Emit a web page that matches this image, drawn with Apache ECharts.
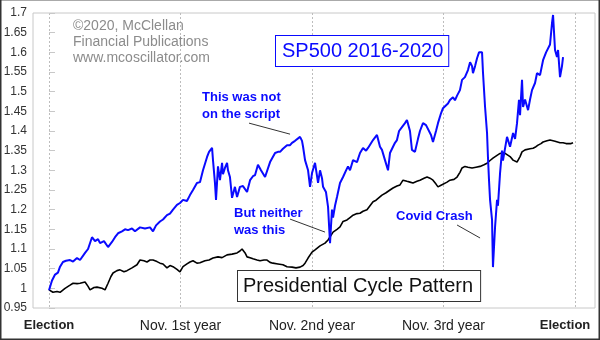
<!DOCTYPE html>
<html>
<head>
<meta charset="utf-8">
<script src="https://cdn.jsdelivr.net/npm/echarts@6/dist/echarts.min.js"></script>
<style>html,body{margin:0;padding:0;background:#fff}#c{width:600px;height:340px}</style>
</head>
<body>
<div id="c"></div>
<script>
// x = years since election, y = growth ratio
const xTicks = [0, 1, 2, 3, 4];
const xTickLabels = ['Election', 'Nov. 1st year', 'Nov. 2nd year', 'Nov. 3rd year', 'Election'];
const sp500Years = [0.000,0.015,0.023,0.046,0.068,0.084,0.106,0.129,0.160,0.183,0.213,0.236,0.274,0.297,0.327,0.350,0.373,0.388,0.418,0.449,0.479,0.502,0.525,0.555,0.578,0.601,0.631,0.654,0.669,0.692,0.730,0.768,0.791,0.814,0.844,0.867,0.897,0.920,0.943,0.973,0.996,1.019,1.049,1.072,1.095,1.125,1.148,1.171,1.202,1.217,1.240,1.247,1.262,1.270,1.285,1.300,1.316,1.323,1.338,1.354,1.361,1.376,1.392,1.399,1.414,1.430,1.452,1.475,1.506,1.529,1.551,1.567,1.589,1.612,1.627,1.643,1.658,1.681,1.696,1.719,1.741,1.757,1.779,1.810,1.833,1.848,1.871,1.886,1.909,1.924,1.932,1.947,1.970,1.985,2.000,2.023,2.046,2.061,2.076,2.084,2.106,2.122,2.137,2.144,2.152,2.160,2.175,2.190,2.213,2.236,2.259,2.274,2.289,2.312,2.342,2.365,2.388,2.411,2.426,2.441,2.464,2.494,2.502,2.517,2.532,2.555,2.578,2.593,2.616,2.631,2.646,2.662,2.684,2.707,2.722,2.745,2.760,2.783,2.806,2.821,2.844,2.867,2.882,2.905,2.920,2.943,2.958,2.981,2.996,3.011,3.034,3.049,3.072,3.087,3.103,3.125,3.141,3.163,3.186,3.202,3.217,3.224,3.240,3.255,3.270,3.293,3.300,3.316,3.331,3.338,3.346,3.354,3.369,3.376,3.392,3.407,3.414,3.430,3.445,3.452,3.483,3.506,3.529,3.544,3.559,3.574,3.582,3.597,3.605,3.620,3.643,3.658,3.673,3.696,3.711,3.734,3.757,3.780,3.795,3.810,3.825,3.833,3.848,3.863,3.871,3.886,3.901,3.909];
const sp500Values = [0.995,0.99,1.02,1.035,1.04,1.055,1.067,1.07,1.072,1.068,1.077,1.072,1.09,1.10,1.13,1.12,1.125,1.115,1.12,1.105,1.118,1.13,1.14,1.145,1.15,1.148,1.152,1.145,1.143,1.155,1.152,1.155,1.145,1.16,1.17,1.175,1.186,1.19,1.20,1.212,1.217,1.225,1.222,1.237,1.25,1.268,1.27,1.30,1.334,1.347,1.357,1.326,1.268,1.225,1.31,1.275,1.319,1.29,1.306,1.319,1.30,1.283,1.23,1.225,1.258,1.232,1.258,1.26,1.245,1.275,1.285,1.288,1.314,1.30,1.305,1.283,1.283,1.321,1.326,1.344,1.347,1.347,1.355,1.364,1.364,1.37,1.375,1.377,1.385,1.375,1.36,1.326,1.30,1.258,1.293,1.319,1.268,1.30,1.28,1.258,1.245,1.207,1.115,1.156,1.2,1.18,1.21,1.232,1.268,1.283,1.30,1.31,1.30,1.326,1.321,1.344,1.357,1.35,1.357,1.36,1.377,1.39,1.385,1.36,1.352,1.326,1.30,1.344,1.36,1.37,1.377,1.40,1.41,1.42,1.428,1.40,1.352,1.347,1.38,1.40,1.42,1.415,1.41,1.39,1.372,1.40,1.42,1.445,1.458,1.461,1.47,1.479,1.486,1.478,1.49,1.504,1.53,1.537,1.555,1.575,1.565,1.547,1.565,1.585,1.60,1.60,1.55,1.461,1.395,1.334,1.275,1.225,1.174,1.054,1.156,1.225,1.21,1.293,1.35,1.325,1.385,1.36,1.395,1.38,1.42,1.479,1.44,1.53,1.461,1.48,1.453,1.48,1.504,1.522,1.547,1.542,1.58,1.60,1.60,1.62,1.674,1.695,1.606,1.588,1.606,1.537,1.565,1.588];
const cycleYears = [0.000,0.030,0.061,0.084,0.122,0.160,0.183,0.213,0.236,0.274,0.297,0.312,0.342,0.365,0.403,0.426,0.449,0.471,0.487,0.517,0.540,0.570,0.593,0.631,0.669,0.692,0.722,0.745,0.768,0.791,0.821,0.844,0.867,0.897,0.920,0.943,0.973,0.996,1.019,1.049,1.072,1.095,1.125,1.148,1.186,1.217,1.247,1.285,1.316,1.354,1.392,1.430,1.452,1.468,1.491,1.506,1.529,1.551,1.582,1.605,1.635,1.658,1.681,1.703,1.741,1.779,1.810,1.848,1.878,1.909,1.932,1.947,1.970,2.000,2.023,2.038,2.061,2.076,2.099,2.122,2.137,2.160,2.190,2.213,2.236,2.266,2.289,2.312,2.342,2.365,2.388,2.418,2.441,2.464,2.487,2.502,2.532,2.563,2.593,2.616,2.646,2.669,2.692,2.722,2.745,2.768,2.798,2.821,2.852,2.875,2.897,2.920,2.943,2.958,2.981,2.996,3.027,3.049,3.080,3.103,3.125,3.141,3.163,3.186,3.217,3.247,3.278,3.308,3.331,3.354,3.376,3.407,3.430,3.460,3.483,3.506,3.529,3.559,3.582,3.597,3.620,3.635,3.658,3.681,3.703,3.719,3.741,3.757,3.787,3.810,3.825,3.848,3.863,3.886,3.909,3.932,3.947,3.970,3.985];
const cycleValues = [0.996,0.99,0.992,0.99,1.0,1.008,1.013,1.012,1.013,1.016,1.005,0.996,1.002,1.003,1.0,0.996,1.013,1.03,1.039,1.045,1.047,1.042,1.045,1.052,1.06,1.072,1.07,1.067,1.072,1.072,1.068,1.064,1.062,1.052,1.058,1.055,1.048,1.042,1.055,1.062,1.067,1.07,1.064,1.065,1.07,1.072,1.077,1.08,1.078,1.085,1.087,1.09,1.095,1.10,1.09,1.08,1.078,1.075,1.072,1.07,1.072,1.072,1.066,1.064,1.062,1.06,1.055,1.054,1.052,1.054,1.058,1.064,1.077,1.092,1.098,1.102,1.108,1.11,1.115,1.123,1.125,1.143,1.15,1.156,1.17,1.174,1.18,1.186,1.19,1.191,1.196,1.2,1.21,1.22,1.224,1.226,1.237,1.243,1.25,1.255,1.26,1.263,1.275,1.272,1.27,1.268,1.272,1.275,1.28,1.283,1.28,1.275,1.265,1.258,1.262,1.265,1.27,1.275,1.277,1.283,1.295,1.306,1.31,1.308,1.306,1.308,1.31,1.314,1.318,1.325,1.331,1.338,1.343,1.345,1.34,1.335,1.326,1.321,1.335,1.347,1.352,1.356,1.355,1.356,1.36,1.364,1.368,1.372,1.375,1.377,1.377,1.374,1.372,1.37,1.37,1.368,1.372,1.368,1.37];
// leader lines of the annotations, in data coordinates [x1,y1,x2,y2]
const leaderLines = [[1.521,1.420,1.833,1.392],[1.833,1.176,2.099,1.143],[3.103,1.161,3.278,1.128]];

const zip = (a, b) => a.map((v, i) => [v, b[i]]);
const chart = echarts.init(document.getElementById('c'), null, {renderer: 'canvas'});
const FONT = '"Liberation Sans", Arial, Helvetica, sans-serif';
const BLUE = '#0a0aff';

chart.setOption({
  animation: false,
  backgroundColor: '#fff',
  textStyle: {fontFamily: FONT},
  grid: {left: 33, top: 13, right: 5, bottom: 32, show: true, borderColor: '#c8c8c8', borderWidth: 1, backgroundColor: 'transparent'},
  xAxis: {
    type: 'value', min: -0.1217, max: 4.152,
    axisLine: {show: false},
    axisTick: {show: false, customValues: xTicks},
    splitLine: {show: true, lineStyle: {color: '#bdbdbd', type: [2, 2], width: 1}},
    axisLabel: {
      customValues: xTicks, margin: 11, color: '#222',
      formatter: (v) => {
        const i = xTicks.indexOf(Math.round(v));
        const t = xTickLabels[i];
        if (i === 0) return '{b|' + t + '}';
        if (i === xTicks.length - 1) return '{e|' + t + '}';
        return '{n|' + t + '}';
      },
      rich: {
        b: {fontSize: 13, fontWeight: 'bold', color: '#222', fontFamily: FONT},
        e: {fontSize: 13, fontWeight: 'bold', color: '#222', fontFamily: FONT, padding: [0, 20, 0, 0]},
        n: {fontSize: 14, color: '#222', fontFamily: FONT}
      }
    }
  },
  yAxis: {
    type: 'value', min: 0.95, max: 1.7, interval: 0.05,
    axisLine: {show: false},
    axisTick: {show: true, inside: true, length: 6, lineStyle: {color: '#c8c8c8'}},
    splitLine: {show: false},
    axisLabel: {color: '#333', fontSize: 12, margin: 6, fontFamily: FONT,
      formatter: (v) => String(Math.round(v * 100) / 100)}
  },
  series: [
    {
      type: 'line', name: 'Presidential Cycle Pattern', data: zip(cycleYears, cycleValues),
      showSymbol: false, symbol: 'none', lineStyle: {color: '#000', width: 1.6}, z: 2, silent: true,
      markLine: {
        silent: true, symbol: ['none', 'none'], label: {show: false},
        lineStyle: {color: '#333', width: 1, type: 'solid'},
        emphasis: {disabled: true},
        data: leaderLines.map(l => [{coord: [l[0], l[1]]}, {coord: [l[2], l[3]]}])
      }
    },
    {
      type: 'line', name: 'SP500 2016-2020', data: zip(sp500Years, sp500Values),
      showSymbol: false, symbol: 'none', lineStyle: {color: BLUE, width: 2}, z: 3, silent: true
    }
  ],
  graphic: [
    {type: 'text', x: 73, y: 18, z: 10, style: {text: '©2020, McClellan\nFinancial Publications\nwww.mcoscillator.com', font: '14px ' + FONT, fill: '#8c8c8c', lineHeight: 16, verticalAlign: 'top'}},
    {type: 'text', x: 276, y: 36, z: 10, style: {text: 'SP500 2016-2020', font: '20px ' + FONT, fill: BLUE, lineHeight: 22, verticalAlign: 'top', backgroundColor: '#fff', borderColor: BLUE, borderWidth: 1, padding: [4, 5, 4, 6]}},
    {type: 'text', x: 238, y: 271, z: 10, style: {text: 'Presidential Cycle Pattern', font: '20px ' + FONT, fill: '#111', lineHeight: 22, verticalAlign: 'top', backgroundColor: '#fff', borderColor: '#333', borderWidth: 1, padding: [4, 7, 4, 5]}},
    {type: 'text', x: 202, y: 88.5, z: 10, style: {text: 'This was not\non the script', font: 'bold 13px ' + FONT, fill: BLUE, lineHeight: 17, verticalAlign: 'top'}},
    {type: 'text', x: 234, y: 204.5, z: 10, style: {text: 'But neither\nwas this', font: 'bold 13px ' + FONT, fill: BLUE, lineHeight: 17, verticalAlign: 'top'}},
    {type: 'text', x: 396, y: 207.5, z: 10, style: {text: 'Covid Crash', font: 'bold 13px ' + FONT, fill: BLUE, lineHeight: 17, verticalAlign: 'top'}},
    {type: 'line', z: 20, shape: {x1: 0, y1: 0.5, x2: 600, y2: 0.5}, style: {stroke: '#aaa', lineWidth: 1}},
    {type: 'polyline', z: 20, shape: {points: [[0.75, 0], [0.75, 339.25], [599.25, 339.25], [599.25, 0]]}, style: {stroke: '#333', lineWidth: 1.5, fill: null}}
  ]
});
</script>
</body>
</html>
